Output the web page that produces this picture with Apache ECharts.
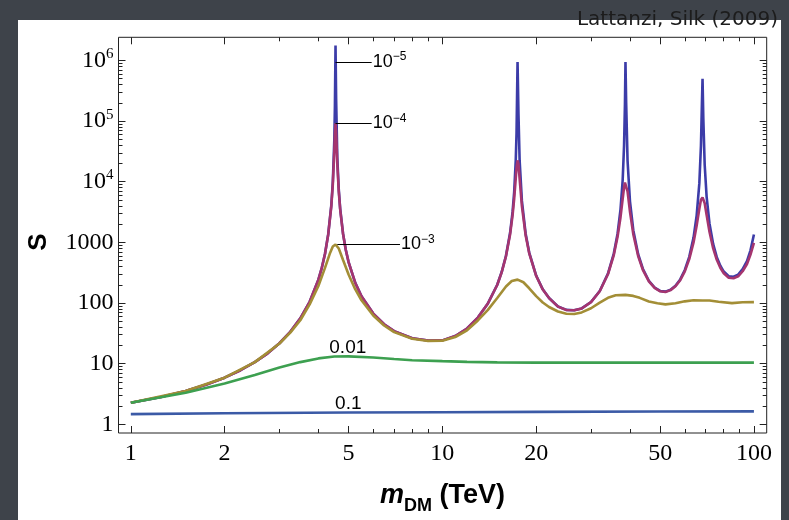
<!DOCTYPE html>
<html>
<head>
<meta charset="utf-8">
<script src="https://cdn.jsdelivr.net/npm/echarts@6/dist/echarts.min.js"></script>
<style>
  html, body { margin: 0; padding: 0; background: #3e434a; }
  #chart { width: 789px; height: 520px; }
</style>
</head>
<body>
<div id="chart"></div>
<script>
// Sommerfeld enhancement S against dark-matter mass, one curve per relative velocity.

// Shared mass grid (TeV) for the two lowest-velocity curves, dense around the resonances.
const massFine = [
  1, 1.25, 1.5, 1.75, 2, 2.25, 2.5, 2.75, 3, 3.25, 3.5, 3.75,
  4, 4.1, 4.2, 4.3, 4.4, 4.45, 4.5, 4.52, 4.54, 4.56, 4.6, 4.65, 4.7, 4.8, 4.9, 5, 5.25, 5.5,
  6, 6.5, 7, 8, 9, 10, 11, 12, 13, 14, 15, 15.5,
  16, 16.5, 16.8, 17, 17.2, 17.3, 17.43, 17.55, 17.7, 18, 18.5, 19, 20, 21, 22, 23.5,
  25, 26.5, 28, 30, 32, 34, 35.5,
  36.5, 37.3, 37.9, 38.3, 38.55, 38.7, 38.9, 39.3, 40, 41, 42.5, 44, 46, 48,
  50, 52, 54, 56, 58, 60, 62,
  64, 65.5, 66.8, 67.6, 68.1, 68.4, 68.8, 69.5, 70.5, 72, 74, 76, 78,
  80, 83, 86, 89, 92, 95, 97.5, 100
];

// beta = 1e-5
const sBeta1e5 = [
  2.27, 2.82, 3.54, 4.52, 5.87, 7.79, 10.6, 14.8, 21.7, 33.5, 55.8, 104.7,
  243, 377, 650, 1348, 4060, 9990, 49500, 185000, 1760000, 235000, 25000, 7460, 3574, 1390, 747, 474, 216.7, 129,
  66.9, 44.6, 34.3, 26.2, 24.0, 24.2, 28.5, 38.0, 57.5, 98.4, 200, 324,
  602, 1450, 3180, 6720, 22450, 63000, 940000, 130000, 22470, 4830, 1400, 680, 284, 168, 121, 87.4,
  77, 76, 81.5, 104, 158, 306, 655,
  1393, 3450, 10480, 39750, 192000, 940000, 196000, 22300, 4800, 1590, 637, 367, 233, 180,
  158, 154, 165, 192, 245, 350, 577,
  1200, 2790, 9380, 39200, 203000, 500000, 109000, 18900, 5640, 2050, 933, 570, 411,
  330, 276, 271, 294, 361, 490, 740, 1345
];

// beta = 1e-4
const sBeta1e4 = [
  2.27, 2.82, 3.54, 4.52, 5.87, 7.79, 10.6, 14.8, 21.7, 33.5, 55.8, 104.7,
  242, 375, 645, 1328, 3888, 9011, 32180, 61840, 92000, 66370, 19610, 6889, 3436, 1368, 741, 472, 216, 129,
  66.9, 44.6, 34.3, 26.2, 24.0, 24.2, 28.5, 38.0, 57.5, 98.2, 198, 320,
  588, 1364, 2794, 5200, 11360, 16900, 22500, 19480, 11290, 3973, 1315, 659, 280, 167, 120.5, 87.1,
  76.8, 75.8, 81.2, 103.5, 156, 298, 618,
  1234, 2578, 5169, 8117, 9687, 10000, 9697, 6949, 3233, 1365, 596, 353, 228, 177,
  156, 152, 163, 189, 237, 333, 529,
  997, 1889, 3584, 5037, 5400, 5500, 5350, 4410, 2822, 1497, 795, 515, 381,
  310, 261, 256, 276, 334, 440, 629, 985
];

// beta = 1e-3
const massOlive = [
  1, 1.5, 2, 2.5, 3, 3.25, 3.5, 3.75, 4, 4.2, 4.35, 4.45, 4.54, 4.65, 4.8, 5, 5.25, 5.5,
  6, 6.5, 7, 8, 9, 10, 11, 12, 13, 14, 15, 16, 16.7, 17.43, 18.2, 19, 20, 21, 22, 23.5,
  25, 26.5, 28, 30, 32, 34, 36, 38.7, 41, 43, 46, 49, 52, 56, 60, 64, 68.4, 72, 77, 85, 92, 100
];
const sBeta1e3 = [
  2.27, 3.54, 5.87, 10.6, 21.5, 32.5, 52, 95, 191, 379, 647, 852, 924, 793, 513, 296, 169, 111,
  62.3, 42.6, 33.1, 25.8, 23.7, 23.9, 27.5, 35.5, 51.5, 77, 121, 187, 231, 243, 220, 175, 130, 102, 86, 72.5,
  66.6, 66, 70, 82, 101.6, 122, 134, 136, 131, 121.7, 106, 98.9, 94.8, 98.8, 106.5, 111, 110, 109.8, 104.7, 99.7, 103, 103.5
];

// beta = 0.01
const massGreen = [1, 1.5, 2, 2.5, 3, 3.5, 4, 4.5, 5, 6, 7, 8, 10, 12, 15, 20, 30, 50, 70, 100];
const sBeta1e2 = [2.27, 3.3, 4.7, 6.5, 8.6, 10.6, 12.2, 13.1, 13.2, 12.6, 11.9, 11.4, 11.0, 10.7, 10.5, 10.4, 10.4, 10.4, 10.4, 10.4];

// beta = 0.1
const massBlue = [1, 2, 5, 10, 20, 50, 100];
const sBeta1e1 = [1.47, 1.52, 1.56, 1.58, 1.6, 1.62, 1.63];

// Axis ticks and labels
const xTickValues = [1, 2, 5, 10, 20, 50, 100];
const xTickLabels = ['1', '2', '5', '10', '20', '50', '100'];
const xMinorValues = [3, 4, 6, 7, 8, 9, 30, 40, 60, 70, 80, 90];
const yTickValues = [1, 10, 100, 1000, 1e4, 1e5, 1e6];
const yTickLabels = ['1', '10', '100', '1000', '10^4', '10^5', '10^6'];
const yMinorMantissas = [2, 3, 4, 5, 6, 7, 8, 9];

// Curve annotations
const velocityLabels = ['10^−5', '10^−4', '10^−3', '0.01', '0.1'];

const X_MIN = 0.913, X_MAX = 109.9;
const Y_MIN = 0.718, Y_MAX = 2.41e6;

const lg = Math.log10;
const zip = (xs, ys) => xs.map((x, i) => [x, ys[i]]);

const yMinorValues = [];
yTickValues.slice(0, -1).forEach(d => yMinorMantissas.forEach(k => yMinorValues.push(d * k)));

function pickLabel(values, labels, v) {
  for (let i = 0; i < values.length; i++) {
    if (Math.abs(lg(values[i]) - v) < 1e-6) return labels[i];
  }
  return '';
}
function richPower(s) {
  const p = s.split('^');
  return p.length === 2 ? '{b|' + p[0] + '}{s|' + p[1] + '}' : '{b|' + s + '}';
}

const tickFont = 'Liberation Serif';
const tickRich = {
  b: { fontFamily: tickFont, fontSize: 24, color: '#000', lineHeight: 28 },
  s: { fontFamily: tickFont, fontSize: 15, color: '#000', lineHeight: 28, verticalAlign: 'top' }
};
const noteRich = {
  b: { fontFamily: 'Liberation Sans', fontSize: 18, color: '#000', lineHeight: 22 },
  s: { fontFamily: 'Liberation Sans', fontSize: 12, color: '#000', lineHeight: 22, verticalAlign: 'top' }
};

function tickAxis(dim, position, values, length, withLabels) {
  const ext = dim === 'x' ? [lg(X_MIN), lg(X_MAX)] : [lg(Y_MIN), lg(Y_MAX)];
  const ax = {
    type: 'value', min: ext[0], max: ext[1], position: position,
    axisLine: { show: false, onZero: false },
    splitLine: { show: false },
    axisTick: {
      show: true, inside: true, length: length,
      customValues: values.map(lg),
      lineStyle: { color: '#222', width: 1 }
    },
    axisLabel: { show: false }
  };
  if (withLabels) {
    if (dim === 'x') {
      ax.axisLabel = {
        show: true, customValues: xTickValues.map(lg), margin: 9,
        fontFamily: tickFont, fontSize: 24, color: '#000',
        formatter: v => pickLabel(xTickValues, xTickLabels, v)
      };
      ax.name = '{i|m}{sub|DM}{r| (TeV)}';
      ax.nameLocation = 'middle';
      ax.nameGap = 47;
      ax.nameTextStyle = {
        rich: {
          i: { fontFamily: 'Liberation Sans', fontSize: 27, fontStyle: 'italic', fontWeight: 'bold', color: '#000', lineHeight: 32 },
          sub: { fontFamily: 'Liberation Sans', fontSize: 18, fontWeight: 'bold', color: '#000', lineHeight: 32, verticalAlign: 'bottom', padding: [0, 0, -3, 0] },
          r: { fontFamily: 'Liberation Sans', fontSize: 27, fontWeight: 'bold', color: '#000', lineHeight: 32 }
        }
      };
    } else {
      ax.axisLabel = {
        show: true, customValues: yTickValues.map(lg), margin: 5,
        formatter: v => richPower(pickLabel(yTickValues, yTickLabels, v)),
        rich: tickRich
      };
      ax.name = 'S';
      ax.nameLocation = 'middle';
      ax.nameRotate = 90;
      ax.nameGap = 67;
      ax.nameTextStyle = { fontFamily: 'Liberation Sans', fontSize: 26, fontWeight: 'bold', color: '#000', padding: [0, 0, 0, -14] };
    }
  }
  return ax;
}

function dataAxis(dim) {
  return {
    type: 'log', logBase: 10,
    min: dim === 'x' ? X_MIN : Y_MIN,
    max: dim === 'x' ? X_MAX : Y_MAX,
    position: dim === 'x' ? 'bottom' : 'left',
    axisLine: { show: false, onZero: false },
    axisTick: { show: false },
    axisLabel: { show: false },
    splitLine: { show: false }
  };
}

function curve(name, xs, ys, color, extra) {
  return Object.assign({
    name: name, type: 'line', xAxisIndex: 0, yAxisIndex: 0,
    data: zip(xs, ys), symbol: 'none', smooth: false,
    lineStyle: { color: color, width: 2.6 },
    emphasis: { disabled: true }
  }, extra || {});
}

function leader(from, to, text) {
  return {
    silent: true, symbol: ['none', 'none'], animation: false,
    lineStyle: { color: '#000', width: 1, type: 'solid' },
    label: { show: true, position: 'end', distance: 1, formatter: richPower(text), rich: noteRich },
    data: [[{ coord: from }, { coord: to }]]
  };
}
function tag(at, text) {
  return {
    silent: true, symbol: 'circle', symbolSize: 0, animation: false,
    label: { show: true, position: 'inside', formatter: text, fontFamily: 'Liberation Sans', fontSize: 19, color: '#000' },
    data: [{ coord: at }]
  };
}

const chart = echarts.init(document.getElementById('chart'), null, { renderer: 'canvas' });
chart.setOption({
  animation: false,
  backgroundColor: '#3e434a',
  graphic: [
    { type: 'rect', silent: true, z: -10, shape: { x: 18, y: 20, width: 763, height: 500 }, style: { fill: '#ffffff' } },
    { type: 'text', silent: true, right: 11, top: 10, style: { text: 'Lattanzi, Silk (2009)', font: '20px "DejaVu Sans"', fill: '#1c1c1c' } }
  ],
  grid: { left: 118.5, top: 37.3, width: 648.2, height: 400, show: true, borderColor: '#222', borderWidth: 1, backgroundColor: 'transparent' },
  xAxis: [
    dataAxis('x'),
    tickAxis('x', 'bottom', xTickValues, 7, true),
    tickAxis('x', 'bottom', xMinorValues, 4, false),
    tickAxis('x', 'top', xTickValues, 7, false),
    tickAxis('x', 'top', xMinorValues, 4, false)
  ],
  yAxis: [
    dataAxis('y'),
    tickAxis('y', 'left', yTickValues, 7, true),
    tickAxis('y', 'left', yMinorValues, 4, false),
    tickAxis('y', 'right', yTickValues, 7, false),
    tickAxis('y', 'right', yMinorValues, 4, false)
  ],
  series: [
    curve('β=1e-5', massFine, sBeta1e5, '#3c3ca8', { markLine: leader([4.54, 9.4e5], [5.93, 9.4e5], velocityLabels[0]) }),
    curve('β=1e-4', massFine, sBeta1e4, '#a5356f', { markLine: leader([4.54, 9.2e4], [5.93, 9.2e4], velocityLabels[1]) }),
    curve('β=1e-3', massOlive, sBeta1e3, '#a38e36', { markLine: leader([4.6, 924], [7.31, 924], velocityLabels[2]) }),
    curve('β=0.01', massGreen, sBeta1e2, '#3da050', { markPoint: tag([4.97, 18.6], velocityLabels[3]) }),
    curve('β=0.1', massBlue, sBeta1e1, '#3b5aa6', { markPoint: tag([4.99, 2.22], velocityLabels[4]) })
  ]
});
</script>
</body>
</html>
